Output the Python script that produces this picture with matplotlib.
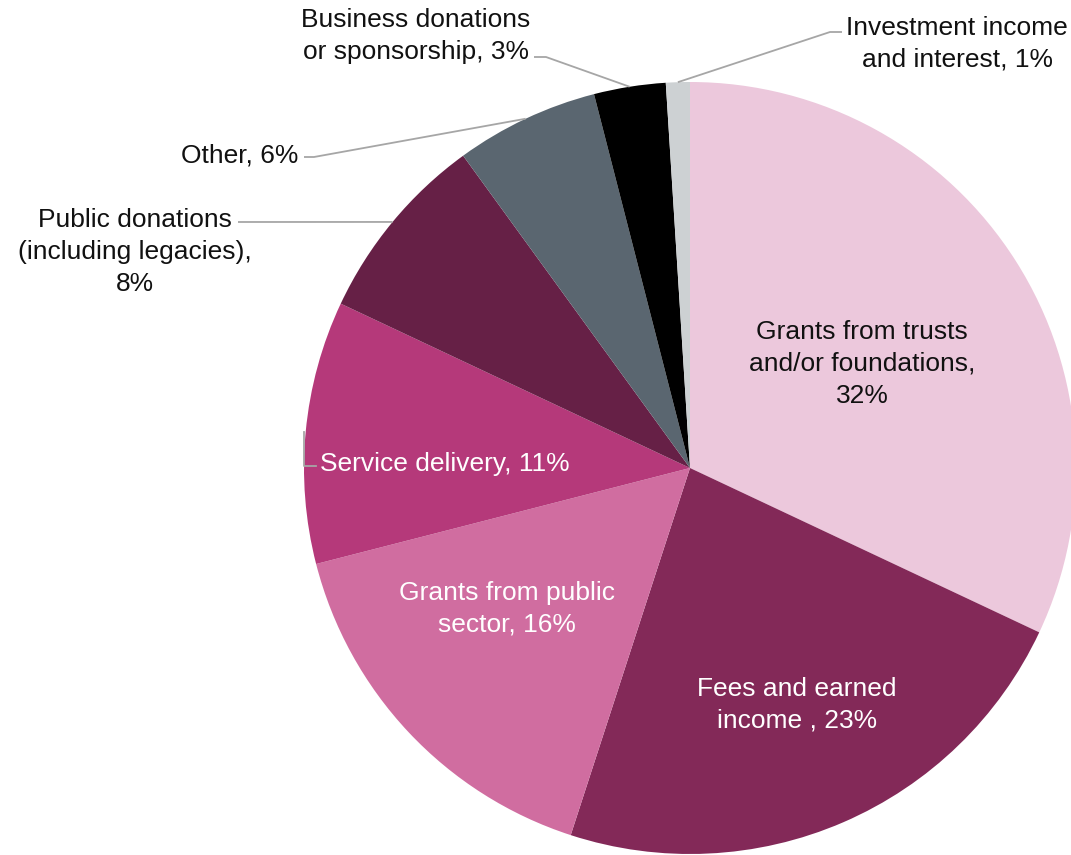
import numpy as np
import matplotlib
matplotlib.use('Agg')
import matplotlib.pyplot as plt

plt.rcParams['font.family'] = ['Liberation Sans', 'DejaVu Sans']

sources = ['Grants from trusts\nand/or foundations,\n',
           'Fees and earned\nincome ,',
           'Grants from public\nsector,',
           'Service delivery,',
           'Public donations\n(including legacies),\n',
           'Other,',
           'Business donations\nor sponsorship,',
           'Investment income\nand interest,']
shares = [32, 23, 16, 11, 8, 6, 3, 1]
colors = ['#ECC8DC', '#832958', '#D06DA0', '#B5397A',
          '#662046', '#5A6670', '#000000', '#CDD1D3']

W, H = 1071, 855
fig = plt.figure(figsize=(W / 100, H / 100), dpi=100)
ax = fig.add_axes([0, 0, 1, 1])

cx, cy, r = 690, H - 468, 386
wedges, _ = ax.pie(shares, colors=colors, startangle=90, counterclock=False,
                   center=(cx, cy), radius=r, frame=True,
                   wedgeprops=dict(linewidth=0))
ax.set_xlim(0, W)
ax.set_ylim(0, H)
ax.set_aspect('equal')
ax.axis('off')


def label_text(i):
    sep = '' if sources[i].endswith('\n') else ' '
    return '{}{}{}%'.format(sources[i], sep, shares[i])


def edge_point(w):
    mid = np.deg2rad((w.theta1 + w.theta2) / 2)
    return cx + r * np.cos(mid), cy + r * np.sin(mid)


fs = 19
ls = 1.4
# labels inside the slices (pixel positions measured from top)
inside = {0: (862, 364, '#111111'), 1: (797, 705, 'white'),
          2: (507, 609, 'white'), 3: (445, 464, 'white')}
for i, (x, y, c) in inside.items():
    ax.text(x, H - y, label_text(i), ha='center', va='center',
            multialignment='center', fontsize=fs, color=c, linespacing=ls)

# labels outside with leader lines
outside = {4: (135, 252, 'center'), 5: (298, 155, 'right'),
           6: (416, 36, 'center'), 7: (957, 44, 'center')}
for i, (x, y, ha) in outside.items():
    ax.text(x, H - y, label_text(i), ha=ha, va='center',
            multialignment='center', fontsize=fs, color='#111111',
            linespacing=ls)

lc = '#A6A6A6'
leaders = {4: [(238, 222)], 5: [(304, 157), (314, 157)],
           6: [(534, 57), (546, 57)], 7: [(842, 32), (830, 32)]}
for i, pts in leaders.items():
    ex, ey = edge_point(wedges[i])
    xs = [p[0] for p in pts] + [ex]
    ys = [H - p[1] for p in pts] + [ey]
    ax.plot(xs, ys, color=lc, lw=1.3, solid_capstyle='butt')

# short bracket for the service delivery label
ex, ey = edge_point(wedges[3])
ax.plot([316, ex - 2, ex - 2], [H - 466, H - 466, ey], color=lc, lw=1.3,
        zorder=3)

plt.savefig('out.png', dpi=100)
